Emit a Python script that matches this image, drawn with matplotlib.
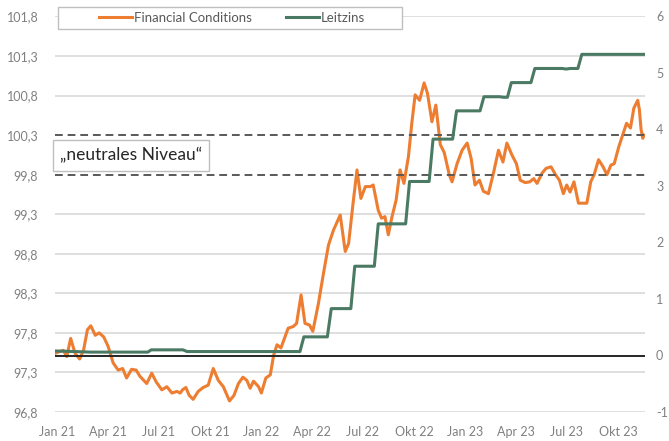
import matplotlib
matplotlib.use("Agg")
import matplotlib.pyplot as plt
from matplotlib.patches import Rectangle
import pandas as pd

plt.rcParams['font.family'] = ['Lato', 'DejaVu Sans']

# ---- data ----
fc_dates = ["2020-12-28","2021-01-04","2021-01-12","2021-01-18","2021-01-25","2021-02-02","2021-02-10",
            "2021-02-17","2021-02-24","2021-03-02","2021-03-10","2021-03-17","2021-03-25","2021-04-02",
            "2021-04-11","2021-04-20","2021-04-28","2021-05-05","2021-05-14","2021-05-22","2021-05-29",
            "2021-06-10","2021-06-19","2021-06-27","2021-07-07","2021-07-16","2021-07-25","2021-08-03",
            "2021-08-09","2021-08-13","2021-08-19","2021-08-25","2021-09-01","2021-09-10","2021-09-19",
            "2021-09-28","2021-10-07","2021-10-16","2021-10-25","2021-11-05","2021-11-13","2021-11-21",
            "2021-11-29","2021-12-06","2021-12-12","2021-12-18","2021-12-27","2022-01-01","2022-01-09",
            "2022-01-17","2022-01-23","2022-01-29","2022-02-05","2022-02-18","2022-02-27","2022-03-05",
            "2022-03-13","2022-03-20","2022-03-28","2022-04-03","2022-04-13","2022-04-22","2022-05-01",
            "2022-05-10","2022-05-22","2022-05-31","2022-06-06","2022-06-14","2022-06-21","2022-06-28",
            "2022-07-06","2022-07-15","2022-07-20","2022-07-29","2022-08-04","2022-08-10","2022-08-16",
            "2022-08-22","2022-08-30","2022-09-06","2022-09-13","2022-09-21","2022-09-27","2022-10-03",
            "2022-10-11","2022-10-19","2022-10-25","2022-11-02","2022-11-09","2022-11-17","2022-11-24",
            "2022-12-03","2022-12-08","2022-12-17","2022-12-26","2023-01-04","2023-01-11","2023-01-18",
            "2023-01-26","2023-02-02","2023-02-11","2023-02-20","2023-03-01","2023-03-09","2023-03-16",
            "2023-03-25","2023-04-02","2023-04-09","2023-04-18","2023-04-26","2023-05-03","2023-05-09",
            "2023-05-18","2023-05-25","2023-06-03","2023-06-11","2023-06-18","2023-06-25","2023-07-01",
            "2023-07-07","2023-07-14","2023-07-22","2023-07-30","2023-08-06","2023-08-13","2023-08-19",
            "2023-08-27","2023-09-04","2023-09-11","2023-09-18","2023-09-24","2023-10-02","2023-10-10",
            "2023-10-16","2023-10-23","2023-10-29","2023-11-05","2023-11-08","2023-11-11","2023-11-14",
            "2023-11-16"]
fc_values = [97.54,97.56,97.58,97.50,97.73,97.54,97.47,
             97.58,97.84,97.89,97.77,97.80,97.75,97.63,
             97.42,97.33,97.35,97.23,97.34,97.33,97.25,
             97.16,97.29,97.18,97.08,97.12,97.04,97.06,
             97.04,97.08,97.11,97.01,96.96,97.06,97.11,
             97.14,97.35,97.20,97.12,96.94,97.01,97.16,
             97.24,97.20,97.10,97.19,97.12,97.04,97.23,
             97.27,97.52,97.65,97.61,97.86,97.88,97.92,
             98.28,97.92,97.90,97.82,98.17,98.55,98.91,
             99.10,99.29,98.83,98.93,99.44,99.86,99.50,
             99.65,99.65,99.67,99.35,99.25,99.27,99.04,
             99.25,99.48,99.86,99.69,100.03,100.45,100.81,
             100.74,100.96,100.83,100.47,100.68,100.18,100.08,
             99.80,99.71,99.94,100.11,100.20,100.01,99.67,
             99.73,99.59,99.56,99.82,100.11,99.96,100.20,
             100.05,99.94,99.73,99.70,99.71,99.75,99.69,
             99.82,99.88,99.90,99.80,99.73,99.56,99.67,
             99.58,99.71,99.44,99.44,99.44,99.71,99.80,
             99.99,99.90,99.80,99.92,99.94,100.15,100.32,
             100.45,100.39,100.64,100.74,100.62,100.37,100.26,
             100.30]

rate_dates = ["2020-12-28","2021-02-01","2021-03-01","2021-05-01","2021-06-12","2021-06-18","2021-08-14",
              "2021-08-21","2022-03-11","2022-03-18","2022-04-29","2022-05-06","2022-06-10","2022-06-17",
              "2022-07-22","2022-07-29","2022-09-16","2022-09-23","2022-10-28","2022-11-04","2022-12-09",
              "2022-12-16","2023-01-27","2023-02-03","2023-03-03","2023-03-10","2023-03-17","2023-03-24",
              "2023-04-28","2023-05-05","2023-06-23","2023-06-30","2023-07-07","2023-07-21","2023-07-28",
              "2023-11-16"]
rate_values = [0.08,0.07,0.06,0.06,0.06,0.10,0.10,
               0.07,0.07,0.33,0.33,0.83,0.83,1.58,
               1.58,2.33,2.33,3.08,3.08,3.83,3.83,
               4.33,4.33,4.58,4.58,4.57,4.57,4.83,
               4.83,5.08,5.08,5.07,5.08,5.08,5.33,
               5.33]

neutral_levels = [100.3, 99.8]
left_ticks = [96.8, 97.3, 97.8, 98.3, 98.8, 99.3, 99.8, 100.3, 100.8, 101.3, 101.8]
right_ticks = [-1, 0, 1, 2, 3, 4, 5, 6]
xtick_dates = ["2021-01-01","2021-04-01","2021-07-01","2021-10-01","2022-01-01","2022-04-01",
               "2022-07-01","2022-10-01","2023-01-01","2023-04-01","2023-07-01","2023-10-01"]
xtick_labels = ["Jan 21","Apr 21","Jul 21","Okt 21","Jan 22","Apr 22",
                "Jul 22","Okt 22","Jan 23","Apr 23","Jul 23","Okt 23"]

ORANGE = "#ED7D31"
GREEN = "#4A7A63"
GRAY_TXT = "#808080"

W, H = 669, 441
fig = plt.figure(figsize=(6.69, 4.41), dpi=100)
ax = fig.add_axes([55/W, 1-412/H, 590/W, 395.5/H])
ax2 = ax.twinx()

fc_x = pd.to_datetime(fc_dates)
rate_x = pd.to_datetime(rate_dates)

# gridlines
for v in left_ticks:
    if v in neutral_levels:
        continue
    ax.axhline(v, color="#d9d9d9", lw=1.2, zorder=0)

ln1, = ax.plot(fc_x, fc_values, color=ORANGE, lw=2.2, zorder=3, label="Financial Conditions")
for v in neutral_levels:
    ax.axhline(v, color="#595959", lw=1.4, ls=(0, (4, 2.5)), zorder=5)

ln2, = ax2.plot(rate_x, rate_values, color=GREEN, lw=2.2, zorder=3, label="Leitzins")
ax2.axhline(0, color="#262626", lw=1.4, zorder=4)

ax.set_ylim(96.8, 101.8)
ax2.set_ylim(-1, 6)
ax.set_xlim(pd.Timestamp("2020-12-28"), pd.Timestamp("2023-11-18"))

ax.set_yticks(left_ticks)
ax.set_yticklabels([f"{v:.1f}".replace(".", ",") for v in left_ticks])
ax2.set_yticks(right_ticks)
ax2.set_yticklabels([str(v) for v in right_ticks])
ax.set_xticks(pd.to_datetime(xtick_dates))
ax.set_xticklabels(xtick_labels)

for a in (ax, ax2):
    for s in a.spines.values():
        s.set_visible(False)
ax.tick_params(axis="y", length=0, pad=12, labelsize=9, labelcolor=GRAY_TXT)
ax.tick_params(axis="x", length=0, pad=10, labelsize=9, labelcolor=GRAY_TXT)
ax2.tick_params(axis="y", length=0, pad=8, labelsize=9, labelcolor=GRAY_TXT)

# legend box
fig.patches.append(Rectangle((58/W, 1-29/H), 344/W, 22/H, transform=fig.transFigure,
                             fc="white", ec="#bfbfbf", lw=1.0, zorder=10))
leg = fig.legend(handles=[ln1, ln2], loc="center", ncol=2,
                 bbox_to_anchor=(232/W, 1-18/H), frameon=False, fontsize=9.5,
                 handlelength=2.5, handletextpad=0.15, columnspacing=2.6)
leg.set_zorder(11)
for t in leg.get_texts():
    t.set_color("#595959")

fig.text(131/W, 1-155.5/H, "„neutrales Niveau“", ha="center", va="center",
         fontsize=12.5, color="#262626",
         bbox=dict(boxstyle="square,pad=0.4", fc="white", ec="#bfbfbf", lw=1.0))

fig.savefig("out.png", dpi=100)
